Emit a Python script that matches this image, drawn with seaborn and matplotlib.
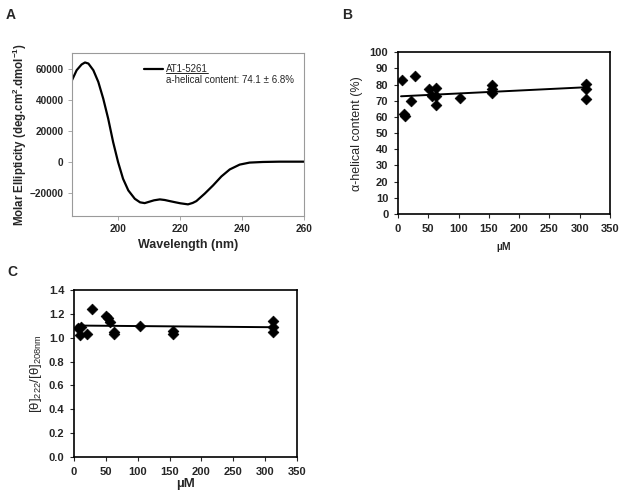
import numpy as np
import pandas as pd
import seaborn as sns
import matplotlib
matplotlib.use("Agg")
import matplotlib.pyplot as plt

# ---- Panel A data: CD spectrum ----
wavelength = [185, 186.5, 188.1, 189.2, 190.3, 191.9, 193.5, 195.1, 196.7, 198.3,
              199.9, 201.5, 203.2, 205.3, 207.0, 208.5, 210.0, 211.5, 213.4, 215.0,
              216.6, 218.5, 220.0, 222.5, 224.0, 225.2, 227.9, 230.6, 233.3, 236.0,
              239.2, 242.4, 246.7, 252.0, 260.0]
ellipticity = [52500, 58900, 62600, 63900, 63200, 58900, 51400, 40600, 27700, 12600,
               -300, -11000, -18500, -23900, -26200, -26700, -25800, -24900, -24300, -24700,
               -25400, -26200, -26800, -27500, -26600, -25400, -20600, -15300, -9500, -5000,
               -1900, -600, -200, 0, 0]

# ---- Panel B data ----
b_conc = [6.5, 9.3, 12, 21.4, 28.5, 52, 56, 63, 63, 62.5, 102.5,
          155.7, 155.7, 155.7, 311, 311, 311]
b_helix = [82.7, 61.7, 60.5, 69.9, 85.6, 77, 73, 78, 73, 67.1, 71.6,
           79.8, 77.6, 74.9, 80.2, 77, 71.1]
b_fit_x = [5, 311]
b_fit_y = [72.8, 78.4]

# ---- Panel C data ----
c_conc = [5.8, 11, 9.4, 21, 28.8, 50.8, 54, 56.6, 62.9, 62.9, 103.7,
          155.6, 155.6, 312, 312, 312]
c_ratio = [1.078, 1.087, 1.022, 1.031, 1.241, 1.182, 1.162, 1.134, 1.05, 1.03, 1.10,
           1.056, 1.035, 1.14, 1.092, 1.05]
c_fit_x = [5, 311]
c_fit_y = [1.102, 1.088]

sns.set_theme(style="ticks")
plt.rcParams['font.family'] = ['Liberation Sans', 'DejaVu Sans']
plt.rcParams['mathtext.fontset'] = 'custom'
plt.rcParams['mathtext.rm'] = 'Liberation Sans'
plt.rcParams['mathtext.it'] = 'Liberation Sans:italic'
plt.rcParams['mathtext.bf'] = 'Liberation Sans:bold'

W, H = 624, 501
fig = plt.figure(figsize=(W / 100, H / 100), dpi=100)
fig.patch.set_facecolor("white")

def box(l, t, r, b):
    return [l / W, 1 - b / H, (r - l) / W, (b - t) / H]

# ---------------- Panel A ----------------
axA = fig.add_axes(box(72, 53, 304, 216))
dfA = pd.DataFrame({"wl": wavelength, "el": ellipticity})
sns.lineplot(data=dfA, x="wl", y="el", ax=axA, color="black", linewidth=1.6)
axA.set_xlim(185, 260)
axA.set_ylim(-35000, 70000)
axA.set_xticks([200, 220, 240, 260])
axA.set_yticks([-20000, 0, 20000, 40000, 60000])
for s in axA.spines.values():
    s.set_color("#9a9a9a")
    s.set_linewidth(0.8)
axA.tick_params(axis="both", direction="out", length=3, width=0.6, color="#9a9a9a",
                labelsize=7.2, pad=3)
for lbl in axA.get_xticklabels() + axA.get_yticklabels():
    lbl.set_fontweight("bold")
axA.set_xlabel("Wavelength (nm)", fontsize=9, fontweight="bold", labelpad=3)
axA.set_ylabel(r"Molar Ellipticity (deg.cm$^{\mathbf{2}}$.dmol$^{\mathbf{-1}}$)",
               fontsize=8.3, fontweight="bold", labelpad=0.5)
# legend-like annotation
axA.plot([0.31, 0.392], [0.902, 0.902], transform=axA.transAxes, color="black", lw=1.6)
t1 = axA.text(0.405, 0.902, "AT1-5261", transform=axA.transAxes, fontsize=7,
              va="center", ha="left")
axA.text(0.405, 0.834, "a-helical content: 74.1 ± 6.8%", transform=axA.transAxes,
         fontsize=7, va="center", ha="left")
fig.canvas.draw()
bb = t1.get_window_extent().transformed(axA.transAxes.inverted())
axA.plot([bb.x0, bb.x1], [bb.y0 + 0.005, bb.y0 + 0.005], transform=axA.transAxes,
         color="black", lw=0.6)

# ---------------- Panel B ----------------
axB = fig.add_axes(box(398, 52.3, 610, 214))
dfB = pd.DataFrame({"c": b_conc, "h": b_helix})
sns.lineplot(x=b_fit_x, y=b_fit_y, ax=axB, color="black", linewidth=1.4)
sns.scatterplot(data=dfB, x="c", y="h", ax=axB, marker="D", color="black", s=30,
                edgecolor="black", linewidth=0.5, zorder=3)
axB.set_xlim(0, 350)
axB.set_ylim(0, 100)
axB.set_xticks(range(0, 351, 50))
axB.set_yticks(range(0, 101, 10))
for s in axB.spines.values():
    s.set_color("black")
    s.set_linewidth(1.2)
axB.tick_params(axis="both", direction="out", length=3, width=0.8, labelsize=8, pad=4)
for lbl in axB.get_xticklabels() + axB.get_yticklabels():
    lbl.set_fontweight("bold")
axB.set_xlabel("µM", fontsize=7.5, fontweight="bold", labelpad=6)
axB.set_ylabel("α-helical content (%)", fontsize=9, labelpad=5)

# ---------------- Panel C ----------------
axC = fig.add_axes(box(74, 290, 297, 457))
dfC = pd.DataFrame({"c": c_conc, "r": c_ratio})
sns.lineplot(x=c_fit_x, y=c_fit_y, ax=axC, color="black", linewidth=1.4)
sns.scatterplot(data=dfC, x="c", y="r", ax=axC, marker="D", color="black", s=30,
                edgecolor="black", linewidth=0.5, zorder=3)
axC.set_xlim(0, 350)
axC.set_ylim(0, 1.4)
axC.set_xticks(range(0, 351, 50))
axC.set_yticks(np.arange(0, 1.41, 0.2))
axC.set_yticklabels([f"{v:.1f}" for v in np.arange(0, 1.41, 0.2)])
for s in axC.spines.values():
    s.set_color("black")
    s.set_linewidth(1.2)
axC.tick_params(axis="both", direction="out", length=3, width=0.8, labelsize=8, pad=4)
for lbl in axC.get_xticklabels() + axC.get_yticklabels():
    lbl.set_fontweight("bold")
axC.set_xlabel("µM", fontsize=9.5, fontweight="bold", labelpad=1)
axC.set_ylabel(r"[θ]$_{\mathrm{222}}$/[θ]$_{\mathrm{208nm}}$", fontsize=9.5, labelpad=3)

# panel letters
fig.text(6 / W, 1 - 19 / H, "A", fontsize=10, fontweight="bold")
fig.text(342 / W, 1 - 19 / H, "B", fontsize=10, fontweight="bold")
fig.text(7 / W, 1 - 276 / H, "C", fontsize=10, fontweight="bold")

fig.savefig("out.png", dpi=100, facecolor="white")
